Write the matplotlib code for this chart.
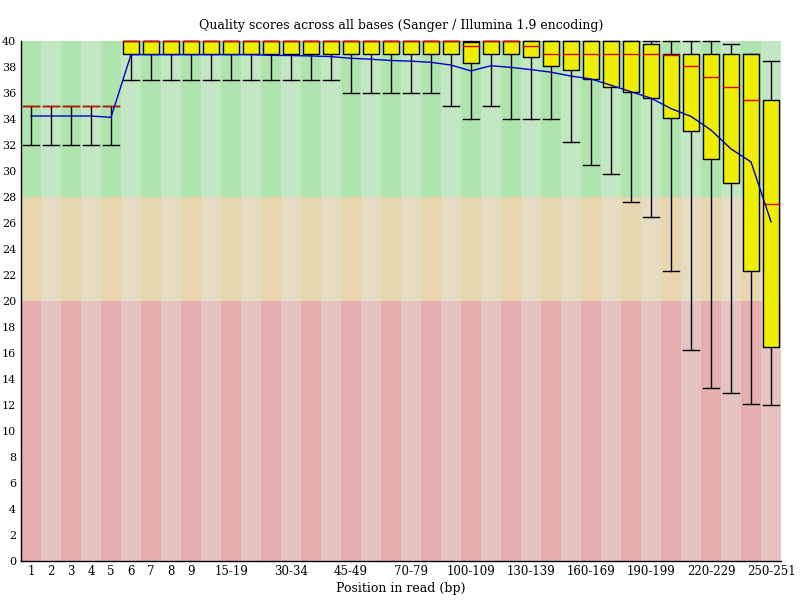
import matplotlib
matplotlib.use("Agg")
import matplotlib.pyplot as plt
import numpy as np

labels = ['1', '2', '3', '4', '5', '6', '7', '8', '9',
          '10-14', '15-19', '20-24', '25-29', '30-34', '35-39', '40-44', '45-49',
          '50-59', '60-69', '70-79', '80-89', '90-99', '100-109', '110-119',
          '120-129', '130-139', '140-149', '150-159', '160-169', '170-179',
          '180-189', '190-199', '200-209', '210-219', '220-229', '230-239',
          '240-249', '250-251']

shown_labels = ['1', '2', '3', '4', '5', '6', '7', '8', '9', '15-19', '30-34',
                '45-49', '70-79', '100-109', '130-139', '160-169', '190-199',
                '220-229', '250-251']

median = [35, 35, 35, 35, 35,
          40, 40, 40, 40, 40, 40, 40, 40, 40, 40, 40, 40, 40, 40, 40, 40, 40,
          39.6, 40, 40, 39.6,
          39, 39, 39, 39, 39, 39,
          38.9, 38.1, 37.25, 36.5, 35.5, 27.5]

q3 = [35, 35, 35, 35, 35,
      40, 40, 40, 40, 40, 40, 40, 40, 40, 40, 40, 40, 40, 40, 40, 40, 40,
      39.9, 40, 40, 40, 40, 40, 40, 40, 40,
      39.75, 39, 39, 39, 39, 39, 35.5]

q1 = [35, 35, 35, 35, 35,
      39, 39, 39, 39, 39, 39, 39, 39, 39, 39, 39, 39, 39, 39, 39, 39, 39,
      38.3, 39, 39, 38.75, 38.1, 37.8, 37.1, 36.5, 36.05, 35.6,
      34.05, 33.1, 30.9, 29.05, 22.3, 16.5]

upper = [35, 35, 35, 35, 35,
         40, 40, 40, 40, 40, 40, 40, 40, 40, 40, 40, 40, 40, 40, 40, 40, 40,
         40, 40, 40, 40, 40, 40, 40, 40, 40, 40, 40, 40, 40,
         39.77, 39, 38.5]

lower = [32, 32, 32, 32, 32,
         37, 37, 37, 37, 37, 37, 37, 37, 37, 37, 37,
         36, 36, 36, 36, 36,
         35, 34, 35, 34, 34, 34, 32.2, 30.5, 29.8, 27.6, 26.5,
         22.3, 16.2, 13.3, 12.9, 12.07, 12]

mean = [34.23, 34.23, 34.23, 34.23, 34.13,
        38.95, 38.95, 38.95, 38.95, 38.95, 38.95, 38.95,
        38.9, 38.88, 38.85, 38.8,
        38.67, 38.6, 38.5, 38.45, 38.36,
        38.15, 37.7, 38.1, 37.97, 37.8, 37.6, 37.3, 37.08, 36.6, 36.1, 35.6,
        34.8, 34.2, 33.15, 31.7, 30.7, 26.1]

zones = [(0, 20), (20, 28), (28, 40)]
zone_colors = [((230/255, 175/255, 175/255), (230/255, 195/255, 195/255)),
               ((230/255, 215/255, 175/255), (230/255, 220/255, 195/255)),
               ((175/255, 228/255, 175/255), (195/255, 230/255, 195/255))]

plt.rcParams['font.family'] = ['DejaVu Serif']
fig = plt.figure(figsize=(8, 6), dpi=100)
ax = fig.add_axes([21/800, 1 - 561/600, 760/800, 520/600])

x = np.arange(len(labels))
for (lo, hi), (c_dark, c_light) in zip(zones, zone_colors):
    cols = [c_dark if i % 2 == 0 else c_light for i in x]
    ax.bar(x, hi - lo, bottom=lo, width=1.0, color=cols, linewidth=0, zorder=0)

bw = 0.8
for i in x:
    ax.plot([i, i], [lower[i], upper[i]], color='black', lw=1, zorder=2, clip_on=False)
    ax.plot([i - bw/2, i + bw/2], [lower[i], lower[i]], color='black', lw=1, zorder=2, clip_on=False)
    ax.plot([i - bw/2, i + bw/2], [upper[i], upper[i]], color='black', lw=1, zorder=2, clip_on=False)
    if q3[i] > q1[i]:
        ax.add_patch(plt.Rectangle((i - bw/2, q1[i]), bw, q3[i] - q1[i],
                                   facecolor=(238/255, 238/255, 0), edgecolor='black',
                                   lw=1, zorder=3, clip_on=False))
    ax.plot([i - bw/2, i + bw/2], [median[i], median[i]], color=(220/255, 0, 0), lw=1,
            zorder=4, clip_on=False)

ax.plot(x, mean, color=(0, 0, 200/255), lw=1, zorder=5)

ax.set_xlim(-0.5, len(labels) - 0.5)
ax.set_ylim(0, 40)
ax.set_yticks(np.arange(0, 41, 2))
ax.set_xticks(x)
ax.set_xticklabels([l if l in shown_labels else '' for l in labels])
ax.tick_params(axis='both', length=0)
ax.tick_params(axis='y', pad=3.5, labelsize=8)
ax.tick_params(axis='x', pad=3, labelsize=8.5)
for s in ['top', 'right']:
    ax.spines[s].set_visible(False)
for s in ['left', 'bottom']:
    ax.spines[s].set_linewidth(1)
ax.set_title('Quality scores across all bases (Sanger / Illumina 1.9 encoding)', fontsize=9, pad=9)
ax.set_xlabel('Position in read (bp)', fontsize=9, labelpad=3)

fig.savefig('out.png', dpi=100)
